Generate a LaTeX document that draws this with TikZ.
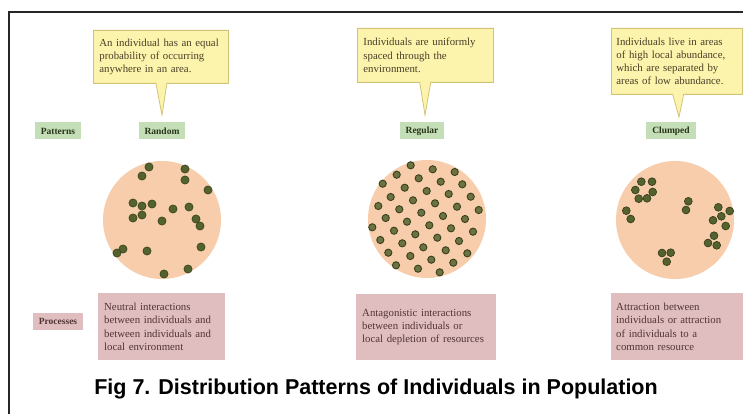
\documentclass[tikz,border=0pt]{standalone}
\usepackage{fontspec}
\setmainfont{Liberation Serif}
\newfontfamily\capfont{Liberation Sans}
\usetikzlibrary{shapes.callouts}
\definecolor{callfill}{RGB}{252,244,172}
\definecolor{calldraw}{RGB}{210,196,118}
\definecolor{callink}{RGB}{72,62,40}
\definecolor{labfill}{RGB}{196,222,184}
\definecolor{labink}{RGB}{40,52,25}
\definecolor{discfill}{RGB}{248,205,172}
\definecolor{dotfill}{RGB}{84,98,46}
\definecolor{dotdraw}{RGB}{56,64,30}
\definecolor{procfill}{RGB}{224,190,192}
\definecolor{procink}{RGB}{82,52,52}
\tikzset{
  callbox/.style={rectangle callout, draw=calldraw, line width=0.8pt, fill=callfill, text=callink,
    font=\fontsize{10.8}{13.2}\selectfont, align=left, inner xsep=6pt, inner ysep=4pt,
    callout pointer width=11pt, anchor=north west},
  labbox/.style={fill=labfill, text=labink, font=\bfseries\fontsize{9.5}{11}\selectfont,
    inner xsep=6pt, inner ysep=3pt, minimum height=17pt},
  procbox/.style={fill=procfill, text=procink, font=\fontsize{10.8}{13.3}\selectfont,
    align=left, inner xsep=6pt, inner ysep=4pt, anchor=north west},
  disc/.style={circle, fill=discfill, minimum size=118pt, inner sep=0pt},
  frameline/.style={line width=1.6pt, black!85}
}
\begin{document}
\begin{tikzpicture}[x=1pt,y=-1pt]
\useasboundingbox (0,0) rectangle (743,414);
\fill[white] (0,0) rectangle (743,414);
\draw[frameline] (9,414) -- (9,12) -- (743,12);

% pointer targets
\coordinate (t1) at (162,115);
\coordinate (t2) at (425,115);
\coordinate (t3) at (679,117);

% callouts
\node[callbox, minimum width=135pt, minimum height=53pt, text width=123pt, callout absolute pointer={(t1)}] (c1) at (93,30)
  {An individual has an equal\\probability of occurring\\anywhere in an area.};
\node[callbox, minimum width=136pt, minimum height=54pt, text width=124pt, callout absolute pointer={(t2)}] (c2) at (357,28)
  {Individuals are uniformly\\spaced through the\\environment.};
\node[callbox, minimum width=131pt, minimum height=66pt, text width=121pt, inner xsep=5pt, callout absolute pointer={(t3)}] (c3) at (611,28)
  {Individuals live in areas\\of high local abundance,\\which are separated by\\areas of low abundance.};

% labels
\node[labbox] (lp) at (58,131) {Patterns};
\node[labbox] (l1) at (162,131) {Random};
\node[labbox] (l2) at (422,131) {Regular};
\node[labbox] (l3) at (671,131) {Clumped};
\node[labbox, fill=procfill, text=procink] (lq) at (58,321) {Processes};

% discs
\node[disc] (d1) at (162,220) {};
\node[disc] (d2) at (427,219) {};
\node[disc] (d3) at (675,220) {};

\foreach \x/\y in {149/167,142/176,185/169,185/180,208/190,133/203,142/206,152/204,173/209,189/207,133/218,142/215,162/221,196/219,200/226,123/249,117/253,147/251,201/247,188/269,164/274}
  \filldraw[fill=dotfill, draw=dotdraw, line width=0.6pt] (\x,\y) circle (4.1pt);

\foreach \x/\y in {410.7/165.3,432.7/169.3,454.7/172,396.7/174.7,418.7/178.3,440.7/181.7,462.3/184.3,382.7/183.7,404.7/187.7,426.7/191,448.7/194,470.7/196.7,390.7/197,413/200.3,435/203.3,457/206.7,478.7/210,378.3/206,399.3/209.3,421.3/212.7,443/216,465/219,385.7/218,407/221.7,429.3/225.3,451/228.3,473/231.7,372.3/227.3,394/230.7,415.3/234.3,437.3/237.7,459/241,380.3/240,402.3/243.3,423.3/247.3,445.7/250.3,467.3/253.3,388.3/252.7,410.3/256,431.3/259.7,453.3/262.7,396/265.3,418/268.7,439.7/272.3}
  \filldraw[fill=dotfill!85!discfill, draw=dotdraw, line width=0.9pt] (\x,\y) circle (3.6pt);

\foreach \x/\y in {641.3/181.7,652/181.7,635.3/190,652.7/192,638.7/198.7,647/198.3,688.3/201.3,686/210,626.3/210.7,630.7/219,718.3/207.3,729.7/211,721.3/216.3,713/220.3,725.7/226,714/235.7,708/243,716.7/245.3,662/253,670.7/252.7,666.7/261.7}
  \filldraw[fill=dotfill, draw=dotdraw, line width=0.7pt] (\x,\y) circle (3.9pt);

% process boxes
\node[procbox, minimum width=127pt, minimum height=67pt, text width=115pt] (p1) at (98,293)
  {Neutral interactions\\between individuals and\\between individuals and\\local environment};
\node[procbox, minimum width=140pt, minimum height=66pt, text width=128pt] (p2) at (356,294)
  {Antagonistic interactions\\between individuals or\\local depletion of resources};
\node[procbox, minimum width=132pt, minimum height=67pt, text width=122pt, inner xsep=5pt] (p3) at (611,293)
  {Attraction between\\individuals or attraction\\of individuals to a\\common resource};

% caption
\node[anchor=base, font=\capfont\bfseries\fontsize{21.5}{24}\selectfont, inner sep=0pt] (cap) at (376,394)
  {Fig 7. Distribution Patterns of Individuals in Population};
\end{tikzpicture}
\end{document}
